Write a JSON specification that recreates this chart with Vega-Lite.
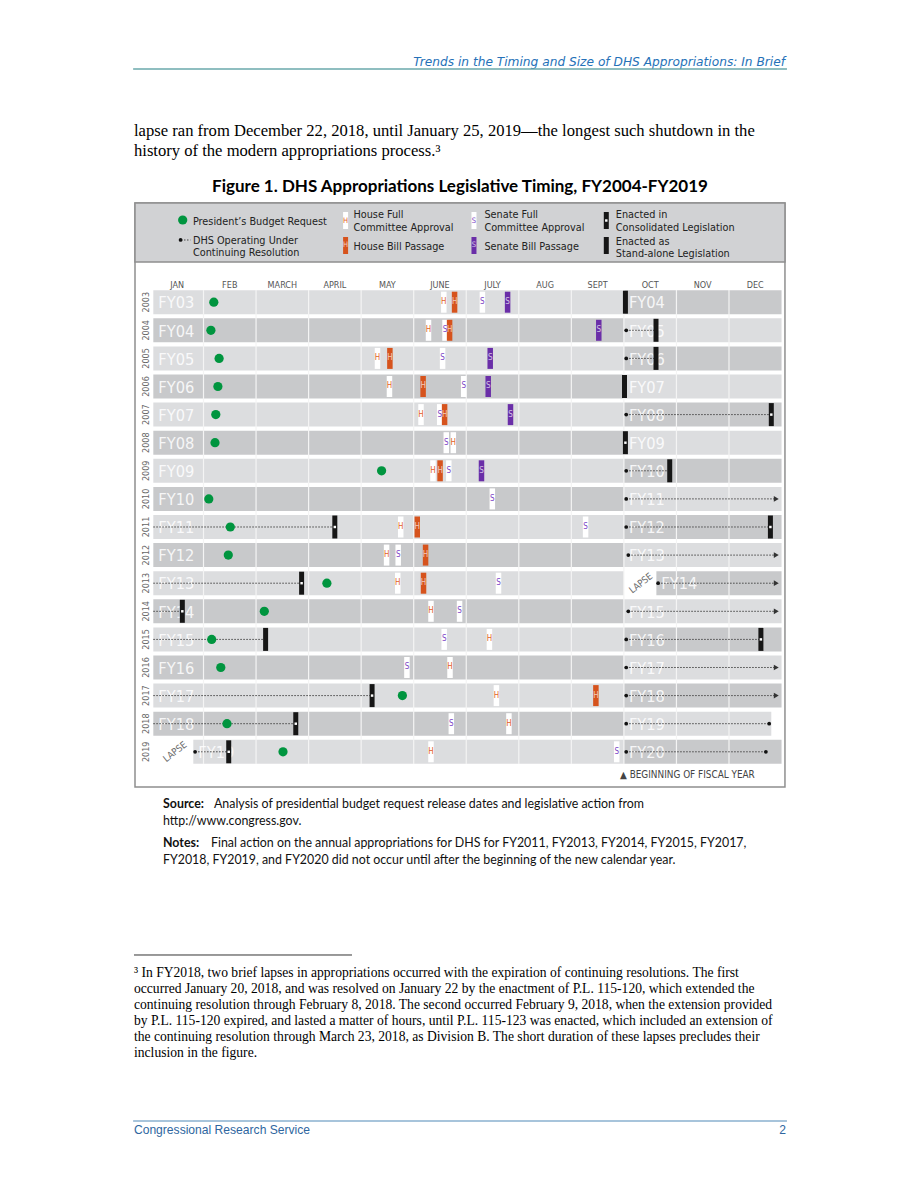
{
"$schema": "https://vega.github.io/schema/vega-lite/v6.json",
"width": 920, "height": 1191, "autosize": "none", "padding": 0, "background": "white",
"config": {"view": {"stroke": null}},
"data": {"values": [{}]},
"datasets": {
"bands": [
{"year":2003,"side":"left","fy":"FY03","parity":"odd","start":0.045,"end":9},
{"year":2003,"side":"right","fy":"FY04","parity":"even","start":9,"end":12},
{"year":2004,"side":"left","fy":"FY04","parity":"even","start":0.045,"end":9},
{"year":2004,"side":"right","fy":"FY05","parity":"odd","start":9,"end":12},
{"year":2005,"side":"left","fy":"FY05","parity":"odd","start":0.045,"end":9},
{"year":2005,"side":"right","fy":"FY06","parity":"even","start":9,"end":12},
{"year":2006,"side":"left","fy":"FY06","parity":"even","start":0.045,"end":9},
{"year":2006,"side":"right","fy":"FY07","parity":"odd","start":9,"end":12},
{"year":2007,"side":"left","fy":"FY07","parity":"odd","start":0.045,"end":9},
{"year":2007,"side":"right","fy":"FY08","parity":"even","start":9,"end":12},
{"year":2008,"side":"left","fy":"FY08","parity":"even","start":0.045,"end":9},
{"year":2008,"side":"right","fy":"FY09","parity":"odd","start":9,"end":12},
{"year":2009,"side":"left","fy":"FY09","parity":"odd","start":0.045,"end":9},
{"year":2009,"side":"right","fy":"FY10","parity":"even","start":9,"end":12},
{"year":2010,"side":"left","fy":"FY10","parity":"even","start":0.045,"end":9},
{"year":2010,"side":"right","fy":"FY11","parity":"odd","start":9,"end":12},
{"year":2011,"side":"left","fy":"FY11","parity":"odd","start":0.045,"end":9},
{"year":2011,"side":"right","fy":"FY12","parity":"even","start":9,"end":12},
{"year":2012,"side":"left","fy":"FY12","parity":"even","start":0.045,"end":9},
{"year":2012,"side":"right","fy":"FY13","parity":"odd","start":9,"end":12},
{"year":2013,"side":"left","fy":"FY13","parity":"odd","start":0.045,"end":9},
{"year":2013,"side":"right","fy":"FY14","parity":"even","start":9.618,"end":12},
{"year":2014,"side":"left","fy":"FY14","parity":"even","start":0.045,"end":9},
{"year":2014,"side":"right","fy":"FY15","parity":"odd","start":9,"end":12},
{"year":2015,"side":"left","fy":"FY15","parity":"odd","start":0.045,"end":9},
{"year":2015,"side":"right","fy":"FY16","parity":"even","start":9,"end":12},
{"year":2016,"side":"left","fy":"FY16","parity":"even","start":0.045,"end":9},
{"year":2016,"side":"right","fy":"FY17","parity":"odd","start":9,"end":12},
{"year":2017,"side":"left","fy":"FY17","parity":"odd","start":0.045,"end":9},
{"year":2017,"side":"right","fy":"FY18","parity":"even","start":9,"end":12},
{"year":2018,"side":"left","fy":"FY18","parity":"even","start":0.045,"end":9},
{"year":2018,"side":"right","fy":"FY19","parity":"odd","start":9,"end":11.805},
{"year":2019,"side":"left","fy":"FY19","parity":"odd","start":0.806,"end":9},
{"year":2019,"side":"right","fy":"FY20","parity":"even","start":9,"end":12}
],
"events": [
{"year":2003,"m":1.196,"type":"PBR","code":""},{"year":2003,"m":5.573,"type":"HC","code":"H"},{"year":2003,"m":5.778,"type":"HP","code":"H"},{"year":2003,"m":6.307,"type":"SC","code":"S"},{"year":2003,"m":6.787,"type":"SP","code":"S"},{"year":2003,"m":9.029,"type":"SL","code":""},
{"year":2004,"m":1.141,"type":"PBR","code":""},{"year":2004,"m":5.282,"type":"HC","code":"H"},{"year":2004,"m":5.596,"type":"SC","code":"S"},{"year":2004,"m":5.683,"type":"HP","code":"H"},{"year":2004,"m":8.522,"type":"SP","code":"S"},{"year":2004,"m":9.611,"type":"SL","code":""},
{"year":2005,"m":1.297,"type":"PBR","code":""},{"year":2005,"m":4.311,"type":"HC","code":"H"},{"year":2005,"m":4.547,"type":"HP","code":"H"},{"year":2005,"m":5.55,"type":"SC","code":"S"},{"year":2005,"m":6.456,"type":"SP","code":"S"},{"year":2005,"m":9.611,"type":"SL","code":""},
{"year":2006,"m":1.274,"type":"PBR","code":""},{"year":2006,"m":4.539,"type":"HC","code":"H"},{"year":2006,"m":5.179,"type":"HP","code":"H"},{"year":2006,"m":5.951,"type":"SC","code":"S"},{"year":2006,"m":6.418,"type":"SP","code":"S"},{"year":2006,"m":9.011,"type":"SL","code":""},
{"year":2007,"m":1.234,"type":"PBR","code":""},{"year":2007,"m":5.139,"type":"HC","code":"H"},{"year":2007,"m":5.495,"type":"SC","code":"S"},{"year":2007,"m":5.588,"type":"HP","code":"H"},{"year":2007,"m":6.842,"type":"SP","code":"S"},{"year":2007,"m":11.805,"type":"CL","code":""},
{"year":2008,"m":1.219,"type":"PBR","code":""},{"year":2008,"m":5.62,"type":"SC","code":"S"},{"year":2008,"m":5.754,"type":"HC","code":"H"},{"year":2008,"m":9.029,"type":"CL","code":""},
{"year":2009,"m":4.389,"type":"PBR","code":""},{"year":2009,"m":5.367,"type":"HC","code":"H"},{"year":2009,"m":5.502,"type":"HP","code":"H"},{"year":2009,"m":5.668,"type":"SC","code":"S"},{"year":2009,"m":6.29,"type":"SP","code":"S"},{"year":2009,"m":9.872,"type":"SL","code":""},
{"year":2010,"m":1.101,"type":"PBR","code":""},{"year":2010,"m":6.496,"type":"SC","code":"S"},
{"year":2011,"m":3.499,"type":"CL","code":""},{"year":2011,"m":1.51,"type":"PBR","code":""},{"year":2011,"m":4.753,"type":"HC","code":"H"},{"year":2011,"m":5.068,"type":"HP","code":"H"},{"year":2011,"m":8.271,"type":"SC","code":"S"},{"year":2011,"m":11.788,"type":"CL","code":""},
{"year":2012,"m":1.472,"type":"PBR","code":""},{"year":2012,"m":4.484,"type":"HC","code":"H"},{"year":2012,"m":4.705,"type":"SC","code":"S"},{"year":2012,"m":5.226,"type":"HP","code":"H"},
{"year":2013,"m":2.867,"type":"CL","code":""},{"year":2013,"m":3.348,"type":"PBR","code":""},{"year":2013,"m":4.697,"type":"HC","code":"H"},{"year":2013,"m":5.187,"type":"HP","code":"H"},{"year":2013,"m":6.614,"type":"SC","code":"S"},
{"year":2014,"m":0.597,"type":"CL","code":""},{"year":2014,"m":2.157,"type":"PBR","code":""},{"year":2014,"m":5.329,"type":"HC","code":"H"},{"year":2014,"m":5.873,"type":"SC","code":"S"},
{"year":2015,"m":2.182,"type":"SL","code":""},{"year":2015,"m":1.156,"type":"PBR","code":""},{"year":2015,"m":5.58,"type":"SC","code":"S"},{"year":2015,"m":6.441,"type":"HC","code":"H"},{"year":2015,"m":11.607,"type":"CL","code":""},
{"year":2016,"m":1.329,"type":"PBR","code":""},{"year":2016,"m":4.871,"type":"SC","code":"S"},{"year":2016,"m":5.691,"type":"HC","code":"H"},
{"year":2017,"m":4.208,"type":"CL","code":""},{"year":2017,"m":4.785,"type":"PBR","code":""},{"year":2017,"m":6.574,"type":"HC","code":"H"},{"year":2017,"m":8.467,"type":"HP","code":"H"},
{"year":2018,"m":2.756,"type":"CL","code":""},{"year":2018,"m":1.447,"type":"PBR","code":""},{"year":2018,"m":5.716,"type":"SC","code":"S"},{"year":2018,"m":6.812,"type":"HC","code":"H"},
{"year":2019,"m":1.48,"type":"CL","code":""},{"year":2019,"m":2.513,"type":"PBR","code":""},{"year":2019,"m":5.329,"type":"HC","code":"H"},{"year":2019,"m":8.863,"type":"SC","code":"S"}
],
"cr": [
{"year":2004,"start":9.044,"end":9.611,"startDot":true,"endKind":"bar"},
{"year":2005,"start":9.044,"end":9.611,"startDot":true,"endKind":"bar"},
{"year":2007,"start":9.044,"end":11.805,"startDot":true,"endKind":"bar"},
{"year":2009,"start":9.044,"end":9.872,"startDot":true,"endKind":"bar"},
{"year":2010,"start":9.044,"end":11.9,"startDot":true,"endKind":"arrow"},
{"year":2011,"start":0.045,"end":3.499,"startDot":false,"endKind":"bar"},
{"year":2011,"start":9.044,"end":11.788,"startDot":true,"endKind":"bar"},
{"year":2012,"start":9.084,"end":11.9,"startDot":true,"endKind":"arrow"},
{"year":2013,"start":0.045,"end":2.867,"startDot":false,"endKind":"bar"},
{"year":2013,"start":9.651,"end":11.9,"startDot":true,"endKind":"arrow"},
{"year":2014,"start":0.045,"end":0.597,"startDot":false,"endKind":"bar"},
{"year":2014,"start":9.084,"end":11.9,"startDot":true,"endKind":"arrow"},
{"year":2015,"start":0.045,"end":2.182,"startDot":false,"endKind":"bar"},
{"year":2015,"start":9.044,"end":11.607,"startDot":true,"endKind":"bar"},
{"year":2016,"start":9.044,"end":11.9,"startDot":true,"endKind":"arrow"},
{"year":2017,"start":0.045,"end":4.208,"startDot":false,"endKind":"bar"},
{"year":2017,"start":9.044,"end":11.9,"startDot":true,"endKind":"arrow"},
{"year":2018,"start":0.045,"end":2.756,"startDot":false,"endKind":"bar"},
{"year":2018,"start":9.044,"end":11.765,"startDot":true,"endKind":"dot"},
{"year":2019,"start":0.84,"end":1.48,"startDot":true,"endKind":"bar"},
{"year":2019,"start":9.044,"end":11.702,"startDot":true,"endKind":"dot"}
],
"months": [
{"label":"JAN","start":0,"mid":0.5},{"label":"FEB","start":1,"mid":1.5},{"label":"MARCH","start":2,"mid":2.5},{"label":"APRIL","start":3,"mid":3.5},{"label":"MAY","start":4,"mid":4.5},{"label":"JUNE","start":5,"mid":5.5},{"label":"JULY","start":6,"mid":6.5},{"label":"AUG","start":7,"mid":7.5},{"label":"SEPT","start":8,"mid":8.5},{"label":"OCT","start":9,"mid":9.5},{"label":"NOV","start":10,"mid":10.5},{"label":"DEC","start":11,"mid":11.5}
],
"lapses": [{"year":2013,"m":9.325,"label":"LAPSE"},{"year":2019,"m":0.458,"label":"LAPSE"}]
},
"layer": [
{"mark": {"type":"rect","fillOpacity":0,"stroke":"#8f8f8f","strokeWidth":1.5},
 "encoding": {"x":{"datum":-0.3035,"type":"quantitative","scale":{"domain":[-2.8725,14.6347],"nice":false,"zero":false},"axis":null},"x2":{"datum":12.065},
  "y":{"datum":1999.47,"type":"quantitative","scale":{"domain":[1992.2456,2034.6299],"nice":false,"zero":false,"reverse":true},"axis":null},"y2":{"datum":2020.253}}},
{"mark": {"type":"rect","fill":"#d1d2d4","stroke":"#8f8f8f","strokeWidth":1.5},
 "encoding": {"x":{"datum":-0.3035,"type":"quantitative","scale":{"domain":[-2.8725,14.6347],"nice":false,"zero":false},"axis":null},"x2":{"datum":12.065},
  "y":{"datum":1999.47,"type":"quantitative","scale":{"domain":[1992.2456,2034.6299],"nice":false,"zero":false,"reverse":true},"axis":null},"y2":{"datum":2001.569}}},
{"data":{"name":"bands"},"mark":{"type":"rule","strokeWidth":24,"strokeCap":"butt"},
 "encoding":{"x":{"field":"start","type":"quantitative","scale":{"domain":[-2.8725,14.6347],"nice":false,"zero":false},"axis":null},"x2":{"field":"end"},
  "y":{"field":"year","type":"quantitative","scale":{"domain":[1992.2456,2034.6299],"nice":false,"zero":false,"reverse":true},"axis":null},
  "stroke":{"field":"parity","type":"nominal","scale":{"domain":["odd","even"],"range":["#dcdddf","#c8c9cb"]},"legend":null}}},
{"data":{"name":"months"},"transform":[{"filter":"datum.start > 0"}],"mark":{"type":"rule","stroke":"#f4f4f4","strokeWidth":1.2},
 "encoding":{"x":{"field":"start","type":"quantitative","scale":{"domain":[-2.8725,14.6347],"nice":false,"zero":false},"axis":null},
  "y":{"datum":2002.57,"type":"quantitative","scale":{"domain":[1992.2456,2034.6299],"nice":false,"zero":false,"reverse":true},"axis":null},"y2":{"datum":2019.43}}},
{"data":{"name":"bands"},"mark":{"type":"text","align":"left","baseline":"alphabetic","dx":5,"dy":6.3,"font":"DejaVu Sans Condensed, sans-serif","fontSize":16.3,"fill":"white","opacity":0.85},
 "encoding":{"x":{"field":"start","type":"quantitative","scale":{"domain":[-2.8725,14.6347],"nice":false,"zero":false},"axis":null},
  "y":{"field":"year","type":"quantitative","scale":{"domain":[1992.2456,2034.6299],"nice":false,"zero":false,"reverse":true},"axis":null},
  "text":{"field":"fy","type":"nominal"}}},
{"data":{"name":"bands"},"transform":[{"filter":"datum.side == 'left'"}],"mark":{"type":"text","align":"center","baseline":"middle","angle":270,"font":"DejaVu Sans Condensed, sans-serif","fontSize":9,"fill":"#666666"},
 "encoding":{"x":{"datum":-0.094,"type":"quantitative","scale":{"domain":[-2.8725,14.6347],"nice":false,"zero":false},"axis":null},
  "y":{"field":"year","type":"quantitative","scale":{"domain":[1992.2456,2034.6299],"nice":false,"zero":false,"reverse":true},"axis":null},
  "text":{"field":"year","type":"nominal"}}},
{"data":{"name":"months"},"mark":{"type":"text","align":"center","baseline":"middle","font":"DejaVu Sans Condensed, sans-serif","fontSize":9,"fill":"#555555"},
 "encoding":{"x":{"field":"mid","type":"quantitative","scale":{"domain":[-2.8725,14.6347],"nice":false,"zero":false},"axis":null},
  "y":{"datum":2002.39,"type":"quantitative","scale":{"domain":[1992.2456,2034.6299],"nice":false,"zero":false,"reverse":true},"axis":null},
  "text":{"field":"label","type":"nominal"}}},
{"data":{"name":"lapses"},"mark":{"type":"text","align":"center","baseline":"middle","angle":-38,"font":"DejaVu Sans Condensed, sans-serif","fontSize":9.5,"fill":"#6a6a6a"},
 "encoding":{"x":{"field":"m","type":"quantitative","scale":{"domain":[-2.8725,14.6347],"nice":false,"zero":false},"axis":null},
  "y":{"field":"year","type":"quantitative","scale":{"domain":[1992.2456,2034.6299],"nice":false,"zero":false,"reverse":true},"axis":null},
  "text":{"field":"label","type":"nominal"}}},
{"data":{"name":"cr"},"mark":{"type":"rule","stroke":"#444444","strokeWidth":1,"strokeDash":[1.5,1.5]},
 "encoding":{"x":{"field":"start","type":"quantitative","scale":{"domain":[-2.8725,14.6347],"nice":false,"zero":false},"axis":null},"x2":{"field":"end"},
  "y":{"field":"year","type":"quantitative","scale":{"domain":[1992.2456,2034.6299],"nice":false,"zero":false,"reverse":true},"axis":null}}},
{"data":{"name":"cr"},"transform":[{"filter":"datum.startDot"}],"mark":{"type":"point","filled":true,"shape":"circle","size":14,"color":"#111111","opacity":1},
 "encoding":{"x":{"field":"start","type":"quantitative","scale":{"domain":[-2.8725,14.6347],"nice":false,"zero":false},"axis":null},
  "y":{"field":"year","type":"quantitative","scale":{"domain":[1992.2456,2034.6299],"nice":false,"zero":false,"reverse":true},"axis":null}}},
{"data":{"name":"cr"},"transform":[{"filter":"datum.endKind == 'arrow'"}],"mark":{"type":"point","filled":true,"shape":"triangle-right","size":32,"color":"#333333","opacity":1},
 "encoding":{"x":{"field":"end","type":"quantitative","scale":{"domain":[-2.8725,14.6347],"nice":false,"zero":false},"axis":null},
  "y":{"field":"year","type":"quantitative","scale":{"domain":[1992.2456,2034.6299],"nice":false,"zero":false,"reverse":true},"axis":null}}},
{"data":{"name":"cr"},"transform":[{"filter":"datum.endKind == 'dot'"}],"mark":{"type":"point","filled":true,"shape":"circle","size":14,"color":"#111111","opacity":1},
 "encoding":{"x":{"field":"end","type":"quantitative","scale":{"domain":[-2.8725,14.6347],"nice":false,"zero":false},"axis":null},
  "y":{"field":"year","type":"quantitative","scale":{"domain":[1992.2456,2034.6299],"nice":false,"zero":false,"reverse":true},"axis":null}}},
{"data":{"name":"events"},"transform":[{"filter":"datum.type == 'HC' || datum.type == 'SC'"}],"mark":{"type":"tick","orient":"vertical","thickness":5.5,"size":21,"color":"white","opacity":1},
 "encoding":{"x":{"field":"m","type":"quantitative","scale":{"domain":[-2.8725,14.6347],"nice":false,"zero":false},"axis":null},
  "y":{"field":"year","type":"quantitative","scale":{"domain":[1992.2456,2034.6299],"nice":false,"zero":false,"reverse":true},"axis":null}}},
{"data":{"name":"events"},"transform":[{"filter":"datum.type == 'HP'"}],"mark":{"type":"tick","orient":"vertical","thickness":5.5,"size":21,"color":"#d6531d","opacity":1},
 "encoding":{"x":{"field":"m","type":"quantitative","scale":{"domain":[-2.8725,14.6347],"nice":false,"zero":false},"axis":null},
  "y":{"field":"year","type":"quantitative","scale":{"domain":[1992.2456,2034.6299],"nice":false,"zero":false,"reverse":true},"axis":null}}},
{"data":{"name":"events"},"transform":[{"filter":"datum.type == 'SP'"}],"mark":{"type":"tick","orient":"vertical","thickness":5.5,"size":21,"color":"#6a2ea8","opacity":1},
 "encoding":{"x":{"field":"m","type":"quantitative","scale":{"domain":[-2.8725,14.6347],"nice":false,"zero":false},"axis":null},
  "y":{"field":"year","type":"quantitative","scale":{"domain":[1992.2456,2034.6299],"nice":false,"zero":false,"reverse":true},"axis":null}}},
{"data":{"name":"events"},"transform":[{"filter":"datum.type == 'HC'"}],"mark":{"type":"text","align":"center","baseline":"middle","font":"DejaVu Sans Condensed, sans-serif","fontSize":8,"fill":"#e2601f"},
 "encoding":{"x":{"field":"m","type":"quantitative","scale":{"domain":[-2.8725,14.6347],"nice":false,"zero":false},"axis":null},
  "y":{"field":"year","type":"quantitative","scale":{"domain":[1992.2456,2034.6299],"nice":false,"zero":false,"reverse":true},"axis":null},"text":{"field":"code","type":"nominal"}}},
{"data":{"name":"events"},"transform":[{"filter":"datum.type == 'SC'"}],"mark":{"type":"text","align":"center","baseline":"middle","font":"DejaVu Sans Condensed, sans-serif","fontSize":8,"fill":"#7b45c6"},
 "encoding":{"x":{"field":"m","type":"quantitative","scale":{"domain":[-2.8725,14.6347],"nice":false,"zero":false},"axis":null},
  "y":{"field":"year","type":"quantitative","scale":{"domain":[1992.2456,2034.6299],"nice":false,"zero":false,"reverse":true},"axis":null},"text":{"field":"code","type":"nominal"}}},
{"data":{"name":"events"},"transform":[{"filter":"datum.type == 'HP' || datum.type == 'SP'"}],"mark":{"type":"text","align":"center","baseline":"middle","font":"DejaVu Sans Condensed, sans-serif","fontSize":8,"fill":"white","opacity":0.7},
 "encoding":{"x":{"field":"m","type":"quantitative","scale":{"domain":[-2.8725,14.6347],"nice":false,"zero":false},"axis":null},
  "y":{"field":"year","type":"quantitative","scale":{"domain":[1992.2456,2034.6299],"nice":false,"zero":false,"reverse":true},"axis":null},"text":{"field":"code","type":"nominal"}}},
{"data":{"name":"events"},"transform":[{"filter":"datum.type == 'CL' || datum.type == 'SL'"}],"mark":{"type":"tick","orient":"vertical","thickness":5,"size":23,"color":"#161616","opacity":1},
 "encoding":{"x":{"field":"m","type":"quantitative","scale":{"domain":[-2.8725,14.6347],"nice":false,"zero":false},"axis":null},
  "y":{"field":"year","type":"quantitative","scale":{"domain":[1992.2456,2034.6299],"nice":false,"zero":false,"reverse":true},"axis":null}}},
{"data":{"name":"events"},"transform":[{"filter":"datum.type == 'CL'"}],"mark":{"type":"point","filled":true,"shape":"square","size":6,"color":"white","opacity":1},
 "encoding":{"x":{"field":"m","type":"quantitative","scale":{"domain":[-2.8725,14.6347],"nice":false,"zero":false},"axis":null},
  "y":{"field":"year","type":"quantitative","scale":{"domain":[1992.2456,2034.6299],"nice":false,"zero":false,"reverse":true},"axis":null}}},
{"data":{"name":"events"},"transform":[{"filter":"datum.type == 'PBR'"}],"mark":{"type":"point","filled":true,"shape":"circle","size":85,"color":"#00953f","opacity":1},
 "encoding":{"x":{"field":"m","type":"quantitative","scale":{"domain":[-2.8725,14.6347],"nice":false,"zero":false},"axis":null},
  "y":{"field":"year","type":"quantitative","scale":{"domain":[1992.2456,2034.6299],"nice":false,"zero":false,"reverse":true},"axis":null}}},

{"mark":{"type":"point","filled":true,"shape":"circle","size":85,"color":"#00953f","opacity":1},
 "encoding":{"x":{"datum":0.604,"type":"quantitative","scale":{"domain":[-2.8725,14.6347],"nice":false,"zero":false},"axis":null},
  "y":{"datum":2000.075,"type":"quantitative","scale":{"domain":[1992.2456,2034.6299],"nice":false,"zero":false,"reverse":true},"axis":null}}},
{"mark":{"type":"rule","stroke":"#444444","strokeWidth":1,"strokeDash":[1.5,1.5]},
 "encoding":{"x":{"datum":0.572,"type":"quantitative","scale":{"domain":[-2.8725,14.6347],"nice":false,"zero":false},"axis":null},"x2":{"datum":0.75},
  "y":{"datum":2000.786,"type":"quantitative","scale":{"domain":[1992.2456,2034.6299],"nice":false,"zero":false,"reverse":true},"axis":null}}},
{"mark":{"type":"point","filled":true,"shape":"circle","size":14,"color":"#111111","opacity":1},
 "encoding":{"x":{"datum":0.564,"type":"quantitative","scale":{"domain":[-2.8725,14.6347],"nice":false,"zero":false},"axis":null},
  "y":{"datum":2000.786,"type":"quantitative","scale":{"domain":[1992.2456,2034.6299],"nice":false,"zero":false,"reverse":true},"axis":null}}},
{"mark":{"type":"tick","orient":"vertical","thickness":5,"size":17,"color":"white","opacity":1},
 "encoding":{"x":{"datum":3.704,"type":"quantitative","scale":{"domain":[-2.8725,14.6347],"nice":false,"zero":false},"axis":null},
  "y":{"datum":2000.093,"type":"quantitative","scale":{"domain":[1992.2456,2034.6299],"nice":false,"zero":false,"reverse":true},"axis":null}}},
{"mark":{"type":"tick","orient":"vertical","thickness":5,"size":17,"color":"#d6531d","opacity":1},
 "encoding":{"x":{"datum":3.704,"type":"quantitative","scale":{"domain":[-2.8725,14.6347],"nice":false,"zero":false},"axis":null},
  "y":{"datum":2000.982,"type":"quantitative","scale":{"domain":[1992.2456,2034.6299],"nice":false,"zero":false,"reverse":true},"axis":null}}},
{"mark":{"type":"tick","orient":"vertical","thickness":5,"size":17,"color":"white","opacity":1},
 "encoding":{"x":{"datum":6.147,"type":"quantitative","scale":{"domain":[-2.8725,14.6347],"nice":false,"zero":false},"axis":null},
  "y":{"datum":2000.093,"type":"quantitative","scale":{"domain":[1992.2456,2034.6299],"nice":false,"zero":false,"reverse":true},"axis":null}}},
{"mark":{"type":"tick","orient":"vertical","thickness":5,"size":17,"color":"#6a2ea8","opacity":1},
 "encoding":{"x":{"datum":6.147,"type":"quantitative","scale":{"domain":[-2.8725,14.6347],"nice":false,"zero":false},"axis":null},
  "y":{"datum":2000.982,"type":"quantitative","scale":{"domain":[1992.2456,2034.6299],"nice":false,"zero":false,"reverse":true},"axis":null}}},
{"mark":{"type":"text","text":"H","align":"center","baseline":"middle","font":"DejaVu Sans Condensed, sans-serif","fontSize":7.5,"fill":"#e2601f"},
 "encoding":{"x":{"datum":3.704,"type":"quantitative","scale":{"domain":[-2.8725,14.6347],"nice":false,"zero":false},"axis":null},
  "y":{"datum":2000.093,"type":"quantitative","scale":{"domain":[1992.2456,2034.6299],"nice":false,"zero":false,"reverse":true},"axis":null}}},
{"mark":{"type":"text","text":"H","align":"center","baseline":"middle","font":"DejaVu Sans Condensed, sans-serif","fontSize":7.5,"fill":"white","opacity":0.7},
 "encoding":{"x":{"datum":3.704,"type":"quantitative","scale":{"domain":[-2.8725,14.6347],"nice":false,"zero":false},"axis":null},
  "y":{"datum":2000.982,"type":"quantitative","scale":{"domain":[1992.2456,2034.6299],"nice":false,"zero":false,"reverse":true},"axis":null}}},
{"mark":{"type":"text","text":"S","align":"center","baseline":"middle","font":"DejaVu Sans Condensed, sans-serif","fontSize":7.5,"fill":"#7b45c6"},
 "encoding":{"x":{"datum":6.147,"type":"quantitative","scale":{"domain":[-2.8725,14.6347],"nice":false,"zero":false},"axis":null},
  "y":{"datum":2000.093,"type":"quantitative","scale":{"domain":[1992.2456,2034.6299],"nice":false,"zero":false,"reverse":true},"axis":null}}},
{"mark":{"type":"text","text":"S","align":"center","baseline":"middle","font":"DejaVu Sans Condensed, sans-serif","fontSize":7.5,"fill":"white","opacity":0.7},
 "encoding":{"x":{"datum":6.147,"type":"quantitative","scale":{"domain":[-2.8725,14.6347],"nice":false,"zero":false},"axis":null},
  "y":{"datum":2000.982,"type":"quantitative","scale":{"domain":[1992.2456,2034.6299],"nice":false,"zero":false,"reverse":true},"axis":null}}},
{"mark":{"type":"tick","orient":"vertical","thickness":5,"size":17,"color":"#161616","opacity":1},
 "encoding":{"x":{"datum":8.665,"type":"quantitative","scale":{"domain":[-2.8725,14.6347],"nice":false,"zero":false},"axis":null},
  "y":{"datum":2000.093,"type":"quantitative","scale":{"domain":[1992.2456,2034.6299],"nice":false,"zero":false,"reverse":true},"axis":null}}},
{"mark":{"type":"point","filled":true,"shape":"square","size":6,"color":"white","opacity":1},
 "encoding":{"x":{"datum":8.665,"type":"quantitative","scale":{"domain":[-2.8725,14.6347],"nice":false,"zero":false},"axis":null},
  "y":{"datum":2000.093,"type":"quantitative","scale":{"domain":[1992.2456,2034.6299],"nice":false,"zero":false,"reverse":true},"axis":null}}},
{"mark":{"type":"tick","orient":"vertical","thickness":5,"size":17,"color":"#161616","opacity":1},
 "encoding":{"x":{"datum":8.665,"type":"quantitative","scale":{"domain":[-2.8725,14.6347],"nice":false,"zero":false},"axis":null},
  "y":{"datum":2000.982,"type":"quantitative","scale":{"domain":[1992.2456,2034.6299],"nice":false,"zero":false,"reverse":true},"axis":null}}},
{"mark":{"type":"text","text":"President’s Budget Request","align":"left","baseline":"alphabetic","font":"DejaVu Sans Condensed, sans-serif","fontSize":10.8,"fill":"#222222"},
 "encoding":{"x":{"datum":0.799,"type":"quantitative","scale":{"domain":[-2.8725,14.6347],"nice":false,"zero":false},"axis":null},
  "y":{"datum":2000.235,"type":"quantitative","scale":{"domain":[1992.2456,2034.6299],"nice":false,"zero":false,"reverse":true},"axis":null}}},
{"mark":{"type":"text","text":["DHS Operating Under","Continuing Resolution"],"lineHeight":12,"align":"left","baseline":"alphabetic","font":"DejaVu Sans Condensed, sans-serif","fontSize":10.8,"fill":"#222222"},
 "encoding":{"x":{"datum":0.799,"type":"quantitative","scale":{"domain":[-2.8725,14.6347],"nice":false,"zero":false},"axis":null},
  "y":{"datum":2000.928,"type":"quantitative","scale":{"domain":[1992.2456,2034.6299],"nice":false,"zero":false,"reverse":true},"axis":null}}},
{"mark":{"type":"text","text":["House Full","Committee Approval"],"lineHeight":12.5,"align":"left","baseline":"alphabetic","font":"DejaVu Sans Condensed, sans-serif","fontSize":10.8,"fill":"#222222"},
 "encoding":{"x":{"datum":3.853,"type":"quantitative","scale":{"domain":[-2.8725,14.6347],"nice":false,"zero":false},"axis":null},
  "y":{"datum":2000.021,"type":"quantitative","scale":{"domain":[1992.2456,2034.6299],"nice":false,"zero":false,"reverse":true},"axis":null}}},
{"mark":{"type":"text","text":"House Bill Passage","align":"left","baseline":"alphabetic","font":"DejaVu Sans Condensed, sans-serif","fontSize":10.8,"fill":"#222222"},
 "encoding":{"x":{"datum":3.853,"type":"quantitative","scale":{"domain":[-2.8725,14.6347],"nice":false,"zero":false},"axis":null},
  "y":{"datum":2001.125,"type":"quantitative","scale":{"domain":[1992.2456,2034.6299],"nice":false,"zero":false,"reverse":true},"axis":null}}},
{"mark":{"type":"text","text":["Senate Full","Committee Approval"],"lineHeight":12.5,"align":"left","baseline":"alphabetic","font":"DejaVu Sans Condensed, sans-serif","fontSize":10.8,"fill":"#222222"},
 "encoding":{"x":{"datum":6.345,"type":"quantitative","scale":{"domain":[-2.8725,14.6347],"nice":false,"zero":false},"axis":null},
  "y":{"datum":2000.021,"type":"quantitative","scale":{"domain":[1992.2456,2034.6299],"nice":false,"zero":false,"reverse":true},"axis":null}}},
{"mark":{"type":"text","text":"Senate Bill Passage","align":"left","baseline":"alphabetic","font":"DejaVu Sans Condensed, sans-serif","fontSize":10.8,"fill":"#222222"},
 "encoding":{"x":{"datum":6.345,"type":"quantitative","scale":{"domain":[-2.8725,14.6347],"nice":false,"zero":false},"axis":null},
  "y":{"datum":2001.125,"type":"quantitative","scale":{"domain":[1992.2456,2034.6299],"nice":false,"zero":false,"reverse":true},"axis":null}}},
{"mark":{"type":"text","text":["Enacted in","Consolidated Legislation"],"lineHeight":12.5,"align":"left","baseline":"alphabetic","font":"DejaVu Sans Condensed, sans-serif","fontSize":10.8,"fill":"#222222"},
 "encoding":{"x":{"datum":8.846,"type":"quantitative","scale":{"domain":[-2.8725,14.6347],"nice":false,"zero":false},"axis":null},
  "y":{"datum":2000.021,"type":"quantitative","scale":{"domain":[1992.2456,2034.6299],"nice":false,"zero":false,"reverse":true},"axis":null}}},
{"mark":{"type":"text","text":["Enacted as","Stand-alone Legislation"],"lineHeight":12.5,"align":"left","baseline":"alphabetic","font":"DejaVu Sans Condensed, sans-serif","fontSize":10.8,"fill":"#222222"},
 "encoding":{"x":{"datum":8.846,"type":"quantitative","scale":{"domain":[-2.8725,14.6347],"nice":false,"zero":false},"axis":null},
  "y":{"datum":2000.95,"type":"quantitative","scale":{"domain":[1992.2456,2034.6299],"nice":false,"zero":false,"reverse":true},"axis":null}}},
{"mark":{"type":"text","text":"▲ BEGINNING OF FISCAL YEAR","align":"left","baseline":"alphabetic","font":"DejaVu Sans Condensed, sans-serif","fontSize":9.9,"fill":"#444444"},
 "encoding":{"x":{"datum":8.926,"type":"quantitative","scale":{"domain":[-2.8725,14.6347],"nice":false,"zero":false},"axis":null},
  "y":{"datum":2019.94,"type":"quantitative","scale":{"domain":[1992.2456,2034.6299],"nice":false,"zero":false,"reverse":true},"axis":null}}},

{"mark":{"type":"text","text":"Trends in the Timing and Size of DHS Appropriations: In Brief","align":"right","baseline":"alphabetic","font":"DejaVu Sans","fontStyle":"italic","fontSize":12.2,"fill":"#2571b8"},
 "encoding":{"x":{"datum":12.065,"type":"quantitative","scale":{"domain":[-2.8725,14.6347],"nice":false,"zero":false},"axis":null},
  "y":{"datum":1994.594,"type":"quantitative","scale":{"domain":[1992.2456,2034.6299],"nice":false,"zero":false,"reverse":true},"axis":null}}},
{"mark":{"type":"rule","stroke":"#6aa8ab","strokeWidth":1.5},
 "encoding":{"x":{"datum":-0.339,"type":"quantitative","scale":{"domain":[-2.8725,14.6347],"nice":false,"zero":false},"axis":null},"x2":{"datum":12.103},
  "y":{"datum":1994.701,"type":"quantitative","scale":{"domain":[1992.2456,2034.6299],"nice":false,"zero":false,"reverse":true},"axis":null}}},
{"mark":{"type":"text","text":["lapse ran from December 22, 2018, until January 25, 2019—the longest such shutdown in the","history of the modern appropriations process.³"],"lineHeight":20,"align":"left","baseline":"alphabetic","font":"Liberation Serif","fontSize":16.6,"fill":"#000000"},
 "encoding":{"x":{"datum":-0.3227,"type":"quantitative","scale":{"domain":[-2.8725,14.6347],"nice":false,"zero":false},"axis":null},
  "y":{"datum":1997.085,"type":"quantitative","scale":{"domain":[1992.2456,2034.6299],"nice":false,"zero":false,"reverse":true},"axis":null}}},
{"mark":{"type":"text","text":"Figure 1. DHS Appropriations Legislative Timing, FY2004-FY2019","align":"center","baseline":"alphabetic","font":"Lato","fontWeight":"bold","fontSize":17,"fill":"#000000"},
 "encoding":{"x":{"datum":5.881,"type":"quantitative","scale":{"domain":[-2.8725,14.6347],"nice":false,"zero":false},"axis":null},
  "y":{"datum":1999.078,"type":"quantitative","scale":{"domain":[1992.2456,2034.6299],"nice":false,"zero":false,"reverse":true},"axis":null}}},
{"mark":{"type":"text","text":"Source:","align":"left","baseline":"alphabetic","font":"Lato","fontWeight":"bold","fontSize":12.4,"fill":"#111111"},
 "encoding":{"x":{"datum":0.2293,"type":"quantitative","scale":{"domain":[-2.8725,14.6347],"nice":false,"zero":false},"axis":null},
  "y":{"datum":2021.0,"type":"quantitative","scale":{"domain":[1992.2456,2034.6299],"nice":false,"zero":false,"reverse":true},"axis":null}}},
{"mark":{"type":"text","text":"Analysis of presidential budget request release dates and legislative action from","align":"left","baseline":"alphabetic","font":"Lato","fontSize":12.4,"fill":"#111111"},
 "encoding":{"x":{"datum":1.1998,"type":"quantitative","scale":{"domain":[-2.8725,14.6347],"nice":false,"zero":false},"axis":null},
  "y":{"datum":2021.0,"type":"quantitative","scale":{"domain":[1992.2456,2034.6299],"nice":false,"zero":false,"reverse":true},"axis":null}}},
{"mark":{"type":"text","text":"http://www.congress.gov.","align":"left","baseline":"alphabetic","font":"Lato","fontSize":12.4,"fill":"#111111"},
 "encoding":{"x":{"datum":0.2293,"type":"quantitative","scale":{"domain":[-2.8725,14.6347],"nice":false,"zero":false},"axis":null},
  "y":{"datum":2021.605,"type":"quantitative","scale":{"domain":[1992.2456,2034.6299],"nice":false,"zero":false,"reverse":true},"axis":null}}},
{"mark":{"type":"text","text":"Notes:","align":"left","baseline":"alphabetic","font":"Lato","fontWeight":"bold","fontSize":12.4,"fill":"#111111"},
 "encoding":{"x":{"datum":0.2293,"type":"quantitative","scale":{"domain":[-2.8725,14.6347],"nice":false,"zero":false},"axis":null},
  "y":{"datum":2022.388,"type":"quantitative","scale":{"domain":[1992.2456,2034.6299],"nice":false,"zero":false,"reverse":true},"axis":null}}},
{"mark":{"type":"text","text":"Final action on the annual appropriations for DHS for FY2011, FY2013, FY2014, FY2015, FY2017,","align":"left","baseline":"alphabetic","font":"Lato","fontSize":12.4,"fill":"#111111"},
 "encoding":{"x":{"datum":1.1427,"type":"quantitative","scale":{"domain":[-2.8725,14.6347],"nice":false,"zero":false},"axis":null},
  "y":{"datum":2022.388,"type":"quantitative","scale":{"domain":[1992.2456,2034.6299],"nice":false,"zero":false,"reverse":true},"axis":null}}},
{"mark":{"type":"text","text":"FY2018, FY2019, and FY2020 did not occur until after the beginning of the new calendar year.","align":"left","baseline":"alphabetic","font":"Lato","fontSize":12.4,"fill":"#111111"},
 "encoding":{"x":{"datum":0.2293,"type":"quantitative","scale":{"domain":[-2.8725,14.6347],"nice":false,"zero":false},"axis":null},
  "y":{"datum":2022.993,"type":"quantitative","scale":{"domain":[1992.2456,2034.6299],"nice":false,"zero":false,"reverse":true},"axis":null}}},
{"mark":{"type":"rule","stroke":"#000000","strokeWidth":0.8},
 "encoding":{"x":{"datum":-0.3227,"type":"quantitative","scale":{"domain":[-2.8725,14.6347],"nice":false,"zero":false},"axis":null},"x2":{"datum":3.8259},
  "y":{"datum":2026.231,"type":"quantitative","scale":{"domain":[1992.2456,2034.6299],"nice":false,"zero":false,"reverse":true},"axis":null}}},
{"mark":{"type":"text","text":["³ In FY2018, two brief lapses in appropriations occurred with the expiration of continuing resolutions. The first","occurred January 20, 2018, and was resolved on January 22 by the enactment of P.L. 115-120, which extended the","continuing resolution through February 8, 2018. The second occurred February 9, 2018, when the extension provided","by P.L. 115-120 expired, and lasted a matter of hours, until P.L. 115-123 was enacted, which included an extension of","the continuing resolution through March 23, 2018, as Division B. The short duration of these lapses precludes their","inclusion in the figure."],"lineHeight":16,"align":"left","baseline":"alphabetic","font":"Liberation Serif","fontSize":13.6,"fill":"#000000"},
 "encoding":{"x":{"datum":-0.3227,"type":"quantitative","scale":{"domain":[-2.8725,14.6347],"nice":false,"zero":false},"axis":null},
  "y":{"datum":2027.018,"type":"quantitative","scale":{"domain":[1992.2456,2034.6299],"nice":false,"zero":false,"reverse":true},"axis":null}}},
{"mark":{"type":"rule","stroke":"#8ab0cf","strokeWidth":1.5},
 "encoding":{"x":{"datum":-0.339,"type":"quantitative","scale":{"domain":[-2.8725,14.6347],"nice":false,"zero":false},"axis":null},"x2":{"datum":12.103},
  "y":{"datum":2032.139,"type":"quantitative","scale":{"domain":[1992.2456,2034.6299],"nice":false,"zero":false,"reverse":true},"axis":null}}},
{"mark":{"type":"text","text":"Congressional Research Service","align":"left","baseline":"alphabetic","font":"Liberation Sans","fontSize":12.1,"fill":"#2e66a0"},
 "encoding":{"x":{"datum":-0.324,"type":"quantitative","scale":{"domain":[-2.8725,14.6347],"nice":false,"zero":false},"axis":null},
  "y":{"datum":2032.619,"type":"quantitative","scale":{"domain":[1992.2456,2034.6299],"nice":false,"zero":false,"reverse":true},"axis":null}}},
{"mark":{"type":"text","text":"2","align":"right","baseline":"alphabetic","font":"Liberation Sans","fontSize":12.1,"fill":"#2e66a0"},
 "encoding":{"x":{"datum":12.084,"type":"quantitative","scale":{"domain":[-2.8725,14.6347],"nice":false,"zero":false},"axis":null},
  "y":{"datum":2032.619,"type":"quantitative","scale":{"domain":[1992.2456,2034.6299],"nice":false,"zero":false,"reverse":true},"axis":null}}}
]
}
